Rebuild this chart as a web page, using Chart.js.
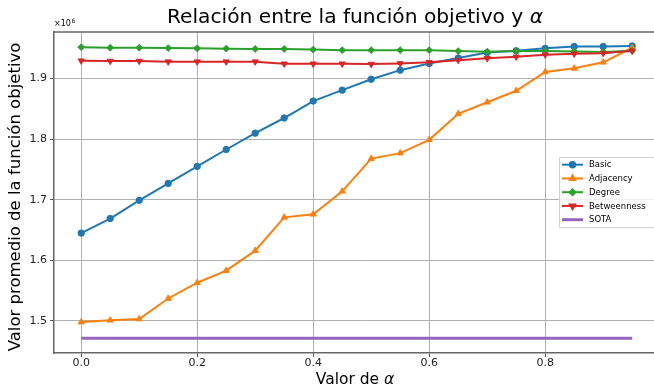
<!DOCTYPE html>
<html lang="es">
<head>
  <meta charset="UTF-8">
  <title>Relación entre la función objetivo y α</title>
  <script src="https://cdn.jsdelivr.net/npm/chart.js"></script>
  <style>
    html, body { margin: 0; padding: 0; background: #fff; overflow: hidden; }
    #frame { width: 654px; height: 390px; overflow: hidden; position: relative; }
    /* the axes run past the right edge of the picture, as in the original */
    #wrap { width: 680px; height: 390px; position: absolute; left: 0; top: 0; }
  </style>
</head>
<body>
  <div id="frame"><div id="wrap"><canvas id="chart"></canvas></div></div>

  <script>
    // alpha values (x) and average objective values (in units of 10^6)
    const alphas = [0, 0.05, 0.1, 0.15, 0.2, 0.25, 0.3, 0.35, 0.4, 0.45,
                    0.5, 0.55, 0.6, 0.65, 0.7, 0.75, 0.8, 0.85, 0.9, 0.95];
    const basic = [1.645, 1.669, 1.699, 1.727, 1.755, 1.783, 1.810, 1.835, 1.863, 1.881,
                   1.899, 1.914, 1.925, 1.934, 1.943, 1.946, 1.950, 1.953, 1.953, 1.954];
    const adjacency = [1.498, 1.501, 1.503, 1.537, 1.563, 1.583, 1.616, 1.671, 1.676, 1.714,
                       1.768, 1.777, 1.799, 1.842, 1.861, 1.880, 1.911, 1.917, 1.927, 1.951];
    const degree = [1.952, 1.951, 1.951, 1.9505, 1.950, 1.9495, 1.949, 1.949, 1.948, 1.947,
                    1.947, 1.947, 1.947, 1.9455, 1.9445, 1.9455, 1.9455, 1.945, 1.944, 1.946];
    const betweenness = [1.9295, 1.929, 1.929, 1.928, 1.928, 1.928, 1.928, 1.9245, 1.9245, 1.9245,
                         1.924, 1.925, 1.927, 1.9305, 1.9335, 1.936, 1.9395, 1.941, 1.942, 1.946];
    const sotaX = [0, 0.95];
    const sotaY = [1.4715, 1.4715];

    const xTicks = [0, 0.2, 0.4, 0.6, 0.8];
    const yTicks = [1.5, 1.6, 1.7, 1.8, 1.9];

    const FONT = '"DejaVu Sans", sans-serif';

    function pts(xs, ys) {
      return xs.map((x, i) => ({ x: x, y: ys[i] }));
    }

    const series = [
      { label: 'Basic', data: pts(alphas, basic), color: '#1f77b4', style: 'circle', rot: 0, r: 3.2, order: 5 },
      { label: 'Adjacency', data: pts(alphas, adjacency), color: '#ff7f0e', style: 'triangle', rot: 0, r: 3.6, order: 4 },
      { label: 'Degree', data: pts(alphas, degree), color: '#2ca02c', style: 'rectRot', rot: 0, r: 3.4, order: 3 },
      { label: 'Betweenness', data: pts(alphas, betweenness), color: '#d62728', style: 'triangle', rot: 180, r: 3.6, order: 2 },
      { label: 'SOTA', data: pts(sotaX, sotaY), color: '#9467bd', style: false, rot: 0, r: 0, order: 1, width: 3 }
    ];

    // Title, axis labels, offset text, top spine and legend
    const decor = {
      id: 'decor',
      afterDraw(chart) {
        const ctx = chart.ctx;
        const a = chart.chartArea;
        const cx = 355;
        ctx.save();

        // top spine
        ctx.strokeStyle = '#666';
        ctx.lineWidth = 1.5;
        ctx.beginPath();
        ctx.moveTo(a.left, a.top);
        ctx.lineTo(a.right, a.top);
        ctx.stroke();

        ctx.fillStyle = '#000';
        ctx.textBaseline = 'middle';

        // text with an italic alpha at the end
        function mixed(text, sym, size, x, y) {
          ctx.font = size + 'px ' + FONT;
          const w1 = ctx.measureText(text).width;
          ctx.font = 'italic ' + size + 'px ' + FONT;
          const w2 = ctx.measureText(sym).width;
          const sx = x - (w1 + w2) / 2;
          ctx.textAlign = 'left';
          ctx.font = size + 'px ' + FONT;
          ctx.fillText(text, sx, y);
          ctx.font = 'italic ' + size + 'px ' + FONT;
          ctx.fillText(sym, sx + w1, y);
        }
        mixed('Relación entre la función objetivo y ', 'α', 20.2, cx, 18);
        mixed('Valor de ', 'α', 15.5, cx, 380);

        // y label
        ctx.save();
        ctx.translate(16, 197);
        ctx.rotate(-Math.PI / 2);
        ctx.font = '16.5px ' + FONT;
        ctx.textAlign = 'center';
        ctx.fillText('Valor promedio de la función objetivo', 0, 0);
        ctx.restore();

        // offset text ×10^6
        ctx.textAlign = 'left';
        ctx.font = '8px ' + FONT;
        ctx.fillText('×10', a.left, a.top - 8);
        const w = ctx.measureText('×10').width;
        ctx.font = '6px ' + FONT;
        ctx.fillText('6', a.left + w + 0.5, a.top - 11);

        // legend
        const lx = 559.5, ly = 157.5, lw = 100, lh = 70;
        ctx.fillStyle = 'rgba(255,255,255,0.8)';
        ctx.strokeStyle = '#d0d0d0';
        ctx.lineWidth = 1;
        ctx.beginPath();
        ctx.rect(lx, ly, lw, lh);
        ctx.fill();
        ctx.stroke();
        ctx.font = '8.5px ' + FONT;
        series.forEach((s, i) => {
          const y = 164.7 + i * 13.75;
          ctx.strokeStyle = s.color;
          ctx.lineWidth = s.width || 2;
          ctx.beginPath();
          ctx.moveTo(562, y);
          ctx.lineTo(583, y);
          ctx.stroke();
          if (s.style) {
            ctx.fillStyle = s.color;
            Chart.helpers.drawPoint(ctx, { pointStyle: s.style, rotation: s.rot, radius: s.r * 0.85, borderWidth: 1 }, 572.5, y);
          }
          ctx.fillStyle = '#000';
          ctx.fillText(s.label, 589, y + 0.5);
        });
        ctx.restore();
      }
    };

    new Chart(document.getElementById('chart'), {
      type: 'line',
      data: {
        datasets: series.map(s => ({
          label: s.label,
          data: s.data,
          borderColor: s.color,
          backgroundColor: s.color,
          borderWidth: s.width || 2,
          pointStyle: s.style,
          pointRotation: s.rot,
          pointRadius: s.r,
          pointBorderWidth: 1,
          pointBorderColor: s.color,
          pointBackgroundColor: s.color,
          tension: 0,
          fill: false,
          order: s.order
        }))
      },
      options: {
        responsive: true,
        maintainAspectRatio: false,
        animation: false,
        layout: { padding: { left: 0, right: 0, top: 32, bottom: 0 } },
        plugins: {
          legend: { display: false },
          title: { display: false },
          tooltip: { enabled: false }
        },
        scales: {
          x: {
            type: 'linear',
            min: -0.0469,
            max: 1.0238,
            afterFit(scale) {
              scale.height = 37;
              scale.paddingLeft = 0;
              scale.paddingRight = 0;
            },
            afterBuildTicks(scale) { scale.ticks = xTicks.map(v => ({ value: v })); },
            ticks: {
              color: '#222',
              font: { family: FONT, size: 11 },
              padding: 0,
              maxRotation: 0,
              callback: v => v.toFixed(1)
            },
            grid: { color: '#b0b0b0', lineWidth: 1, tickLength: 4, tickColor: '#555' },
            border: { color: '#666', width: 1.5 }
          },
          y: {
            min: 1.447,
            max: 1.977,
            afterFit(scale) {
              scale.width = 54;
              scale.paddingTop = 0;
              scale.paddingBottom = 0;
            },
            afterBuildTicks(scale) { scale.ticks = yTicks.map(v => ({ value: v })); },
            ticks: {
              color: '#222',
              font: { family: FONT, size: 11 },
              padding: 3,
              callback: v => v.toFixed(1)
            },
            grid: { color: '#b0b0b0', lineWidth: 1, tickLength: 4, tickColor: '#555' },
            border: { color: '#666', width: 1.5 }
          }
        }
      },
      plugins: [decor]
    });
  </script>
</body>
</html>
